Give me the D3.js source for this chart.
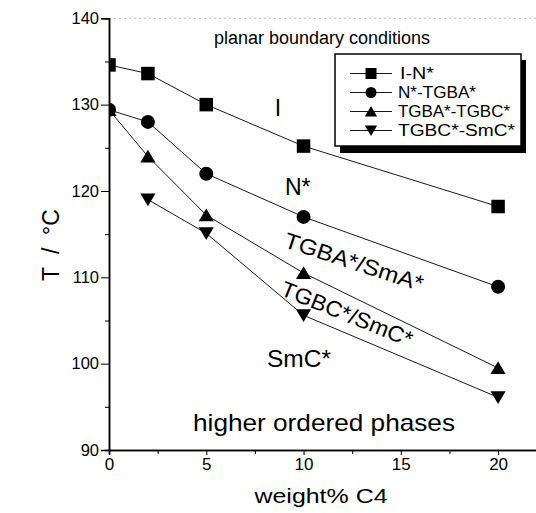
<!DOCTYPE html>
<html><head><meta charset="utf-8">
<script src="https://cdn.jsdelivr.net/npm/d3@7"></script>
<style>body{margin:0;background:#fff}svg{display:block;font-family:"Liberation Sans",Arial,sans-serif}</style>
</head><body>
<svg id="c" width="536" height="513"></svg>
<script>
const xValues = [0, 2, 5, 10, 20];
const seriesNames = ["I-N*", "N*-TGBA*", "TGBA*-TGBC*", "TGBC*-SmC*"];
const iN = [134.6, 133.6, 130.0, 125.2, 118.2];
const nTGBA = [129.4, 128.0, 122.0, 117.0, 108.9];
const tgbaTGBC = [129.4, 124.0, 117.2, 110.5, 99.5];
const tgbcSmC = [null, 119.0, 115.1, 105.6, 96.1];
const xTicks = [0, 5, 10, 15, 20];
const yTicks = [90, 100, 110, 120, 130, 140];
const symbols = ["square", "circle", "up", "down"];

const svg = d3.select("#c");
const x = d3.scaleLinear().domain([0, 22]).range([109, 537]);
const y = d3.scaleLinear().domain([90, 140]).range([450, 18.3]);

function sym(type, s) {
  const h = s / 2;
  if (type === "square") return `M${-h},${-h}H${h}V${h}H${-h}Z`;
  if (type === "circle") return `M${h},0A${h},${h} 0 1,1 ${-h},0A${h},${h} 0 1,1 ${h},0Z`;
  if (type === "up") return `M0,${-s*0.5}L${s*0.56},${s*0.45}L${-s*0.56},${s*0.45}Z`;
  return `M0,${s*0.5}L${s*0.56},${-s*0.45}L${-s*0.56},${-s*0.45}Z`;
}

svg.append("clipPath").attr("id", "clip").append("rect")
  .attr("x", 109).attr("y", 0).attr("width", 430).attr("height", 452);

svg.append("line").attr("x1", 109).attr("x2", 536).attr("y1", y(140)).attr("y2", y(140))
  .attr("stroke", "#aaa").attr("stroke-width", 0.8).attr("stroke-dasharray", "2,3");

const data = [iN, nTGBA, tgbaTGBC, tgbcSmC];
const g = svg.append("g").attr("clip-path", "url(#clip)");
const line = d3.line().defined(d => d[1] != null).x(d => x(d[0])).y(d => y(d[1]));
data.forEach((vals) => {
  const pts = xValues.map((xv, j) => [xv, vals[j]]);
  g.append("path").attr("d", line(pts)).attr("fill", "none").attr("stroke", "#000").attr("stroke-width", 0.9);
});
[3, 2, 0, 1].forEach(i => {
  const vals = data[i];
  xValues.forEach((xv, j) => {
    if (vals[j] == null) return;
    g.append("path").attr("d", sym(symbols[i], i === 1 ? 14 : 13.5))
      .attr("transform", `translate(${x(xv)},${y(vals[j])})`).attr("fill", "#000");
  });
});

const FONT = "Liberation Sans, Arial, sans-serif";
const yAxis = svg.append("g").attr("transform", `translate(109,0)`)
  .call(d3.axisLeft(y).tickValues(yTicks).tickSize(8).tickPadding(2).tickFormat(d3.format("d")));
svg.append("g").attr("transform", `translate(109,0)`)
  .call(d3.axisLeft(y).tickValues(d3.range(95, 140, 10)).tickSize(4).tickFormat(""));
const xAxis = svg.append("g").attr("transform", `translate(0,450)`)
  .call(d3.axisBottom(x).tickValues(xTicks).tickSize(5).tickPadding(3).tickFormat(d3.format("d")));
svg.append("g").attr("transform", `translate(0,450)`)
  .call(d3.axisBottom(x).tickValues([2.5, 7.5, 12.5, 17.5]).tickSize(4).tickFormat(""));
svg.selectAll(".domain").attr("stroke", "#000").attr("stroke-width", 1.5);
svg.selectAll(".tick line").attr("stroke", "#000").attr("stroke-width", 1);
yAxis.selectAll(".tick text").attr("font-size", 16.5).attr("fill", "#000").attr("font-family", FONT);
xAxis.selectAll(".tick text").attr("font-size", 17).attr("fill", "#000").attr("font-family", FONT);

svg.append("text").attr("transform", "translate(51,245) rotate(-90)").attr("text-anchor", "middle")
  .attr("dominant-baseline", "central").attr("font-size", 23).attr("xml:space", "preserve")
  .text("T\u00a0\u00a0/\u00a0\u00a0°C");
svg.append("text").attr("x", 321).attr("y", 503).attr("text-anchor", "middle")
  .attr("font-size", 21).attr("textLength", 133).attr("lengthAdjust", "spacingAndGlyphs").text("weight% C4");

svg.append("text").attr("x", 322).attr("y", 44).attr("text-anchor", "middle").attr("font-size", 18).text("planar boundary conditions");
svg.append("text").attr("x", 278).attr("y", 116).attr("text-anchor", "middle").attr("font-size", 23).text("I");
svg.append("text").attr("x", 285).attr("y", 195).attr("font-size", 23).text("N*");
svg.append("text").attr("transform", "translate(354,262) rotate(18)").attr("text-anchor", "middle")
  .attr("dominant-baseline", "central").attr("font-size", 22).attr("textLength", 145).attr("lengthAdjust", "spacingAndGlyphs").text("TGBA*/SmA*");
svg.append("text").attr("transform", "translate(347,314) rotate(22)").attr("text-anchor", "middle")
  .attr("dominant-baseline", "central").attr("font-size", 22).attr("textLength", 140).attr("lengthAdjust", "spacingAndGlyphs").text("TGBC*/SmC*");
svg.append("text").attr("x", 267).attr("y", 367).attr("font-size", 23).attr("textLength", 64).attr("lengthAdjust", "spacingAndGlyphs").text("SmC*");
svg.append("text").attr("x", 324).attr("y", 431).attr("text-anchor", "middle").attr("font-size", 24)
  .attr("textLength", 262).attr("lengthAdjust", "spacingAndGlyphs").text("higher ordered phases");

const lg = svg.append("g");
lg.append("rect").attr("x", 340).attr("y", 60).attr("width", 186).attr("height", 93).attr("fill", "#000");
lg.append("rect").attr("x", 335).attr("y", 54).attr("width", 186).attr("height", 92)
  .attr("fill", "#fff").attr("stroke", "#000").attr("stroke-width", 1.5);
const legendLen = [34, 78, 112, 117];
seriesNames.forEach((name, i) => {
  const cy = 73.5 + i * 19;
  lg.append("line").attr("x1", 350).attr("x2", 392).attr("y1", cy).attr("y2", cy).attr("stroke", "#000").attr("stroke-width", 0.9);
  lg.append("path").attr("d", sym(symbols[i], 11)).attr("transform", `translate(371,${cy})`).attr("fill", "#000");
  lg.append("text").attr("x", i === 0 ? 400 : 398).attr("y", cy).attr("dominant-baseline", "central").attr("font-size", 16)
    .attr("textLength", legendLen[i]).attr("lengthAdjust", "spacingAndGlyphs").text(name);
});
</script>
</body></html>
